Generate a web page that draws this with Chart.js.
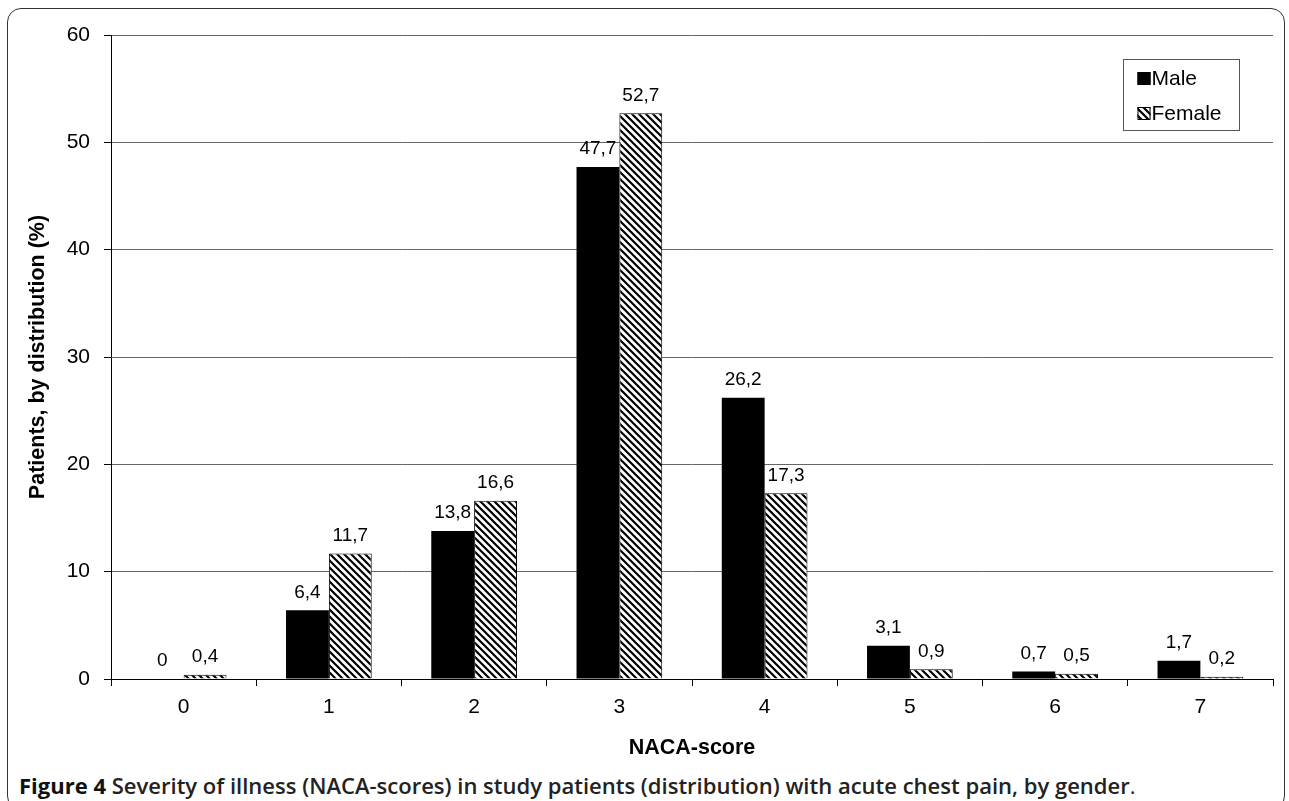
<!DOCTYPE html>
<html>
<head>
<meta charset="utf-8">
<script src="https://cdn.jsdelivr.net/npm/chart.js@4.4.1/dist/chart.umd.min.js"></script>
<style>
  body { margin: 0; background: #fff; }
  #frame {
    position: absolute; left: 7px; top: 8px; width: 1276px; height: 800px;
    border: 1.5px solid #333; border-radius: 14px;
  }
  #c { position: absolute; left: 0; top: 0; }
  #caption {
    position: absolute; left: 19px; top: 771px;
    font-family: "Open Sans", sans-serif; font-size: 20px; font-weight: 600; color: #222;
    white-space: nowrap; line-height: 28px;
  }
  #caption b { font-weight: 700; color: #111; }
</style>
</head>
<body>
<div id="frame"></div>
<canvas id="c" width="1289" height="765"></canvas>
<div id="caption"><b>Figure 4</b> Severity of illness (NACA-scores) in study patients (distribution) with acute chest pain, by gender<span style="font-weight:400">.</span></div>
<script>
// NACA-score distribution by gender
const scores = ['0', '1', '2', '3', '4', '5', '6', '7'];
const male = [0, 6.4, 13.8, 47.7, 26.2, 3.1, 0.7, 1.7];
const female = [0.4, 11.7, 16.6, 52.7, 17.3, 0.9, 0.5, 0.2];
const yTicks = [0, 10, 20, 30, 40, 50, 60];

// caption fills the same width as the original
const cap = document.getElementById('caption');
cap.style.fontSize = (20 * 1117 / cap.getBoundingClientRect().width).toFixed(2) + 'px';

// diagonal hatch fill for the Female bars
function makeHatch() {
  const s = 7;
  const p = document.createElement('canvas');
  p.width = s; p.height = s;
  const g = p.getContext('2d');
  g.fillStyle = '#fff';
  g.fillRect(0, 0, s, s);
  g.strokeStyle = '#000';
  g.lineWidth = 2.2;
  g.beginPath();
  g.moveTo(0, 0); g.lineTo(s, s);
  g.moveTo(-1, s - 1); g.lineTo(1, s + 1);
  g.moveTo(s - 1, -1); g.lineTo(s + 1, 1);
  g.stroke();
  return g.createPattern(p, 'repeat');
}

const ctx = document.getElementById('c').getContext('2d');
const hatch = makeHatch();
const fmt = v => String(v).replace('.', ',');
const font = '"Liberation Sans", Arial, sans-serif';

// value labels above bars
const barLabels = {
  id: 'barLabels',
  afterDatasetsDraw(chart) {
    const c = chart.ctx;
    c.save();
    c.font = '19px ' + font;
    c.fillStyle = '#000';
    c.textAlign = 'center';
    c.textBaseline = 'middle';
    chart.data.datasets.forEach((ds, i) => {
      chart.getDatasetMeta(i).data.forEach((bar, j) => {
        c.fillText(fmt(ds.data[j]), bar.x, bar.y - 18);
      });
    });
    c.restore();
  }
};

// boxed legend inside the plot area
const boxLegend = {
  id: 'boxLegend',
  afterDraw(chart) {
    const c = chart.ctx;
    const a = chart.chartArea;
    const x = a.right - 149.5, y = a.top + 24.5, w = 116, h = 71;
    c.save();
    c.fillStyle = '#fff';
    c.fillRect(x, y, w, h);
    c.strokeStyle = '#555';
    c.lineWidth = 1;
    c.strokeRect(x, y, w, h);
    c.font = '21px ' + font;
    c.textBaseline = 'middle';
    chart.data.datasets.forEach((ds, i) => {
      const cy = y + 19 + i * 35;
      c.fillStyle = ds.backgroundColor;
      c.fillRect(x + 14, cy - 6.5, 13, 13);
      c.strokeStyle = '#000';
      c.strokeRect(x + 14.5, cy - 6, 12, 12);
      c.fillStyle = '#000';
      c.fillText(ds.label, x + 28, cy + 1);
    });
    c.restore();
  }
};

new Chart(ctx, {
  type: 'bar',
  data: {
    labels: scores,
    datasets: [
      { label: 'Male', data: male, backgroundColor: '#000', borderColor: '#000', borderWidth: 0 },
      { label: 'Female', data: female, backgroundColor: hatch, borderColor: '#000', borderWidth: 1 }
    ]
  },
  options: {
    responsive: false,
    animation: false,
    categoryPercentage: 0.59,
    barPercentage: 1,
    layout: { padding: { top: 35, right: 16, left: 0, bottom: 0 } },
    plugins: { legend: { display: false }, tooltip: { enabled: false } },
    scales: {
      x: {
        afterFit: s => { s.height = 86; },
        grid: { offset: true, drawOnChartArea: false, color: '#000', tickLength: 7 },
        border: { color: '#000' },
        ticks: { color: '#000', padding: 9, font: { family: font, size: 21 } },
        title: {
          display: true, text: 'NACA-score', color: '#000',
          font: { family: font, size: 21.5, weight: 'bold' },
          padding: { top: 10, bottom: 4 }
        }
      },
      y: {
        min: 0, max: 60,
        afterFit: s => { s.width = 111; },
        afterBuildTicks: s => { s.ticks = yTicks.map(v => ({ value: v })); },
        grid: { color: '#666', tickColor: '#000', tickLength: 7 },
        border: { color: '#000' },
        ticks: { color: '#000', padding: 14, font: { family: font, size: 21 } },
        title: {
          display: true, text: 'Patients, by distribution (%)', color: '#000',
          font: { family: font, size: 21.5, weight: 'bold' },
          padding: { top: 25 }
        }
      }
    }
  },
  plugins: [barLabels, boxLegend]
});
</script>
</body>
</html>
